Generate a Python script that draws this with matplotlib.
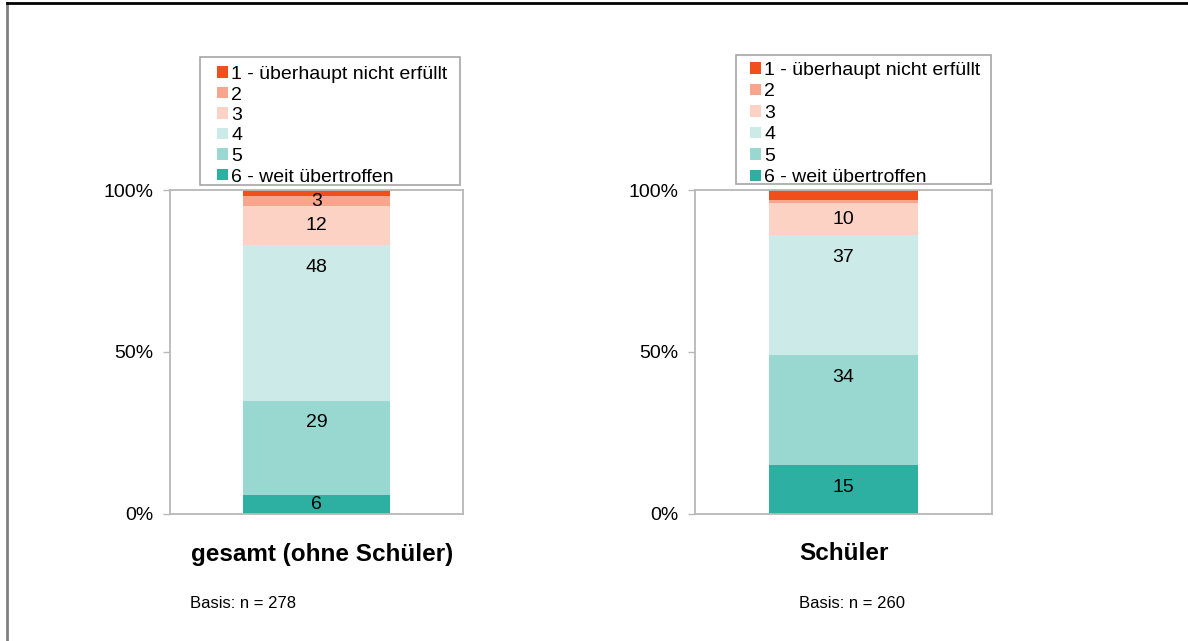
import matplotlib
matplotlib.use("Agg")
import matplotlib.pyplot as plt
from matplotlib.patches import Patch, Rectangle
from matplotlib.lines import Line2D

plt.rcParams['font.family'] = ['Liberation Sans', 'DejaVu Sans']

categories = ["1 - überhaupt nicht erfüllt", "2", "3", "4", "5", "6 - weit übertroffen"]
colors = ["#F04E1A", "#F7A68D", "#FCD2C5", "#CCEBE8", "#98D8D0", "#2DAFA1"]
groups = ["gesamt (ohne Schüler)", "Schüler"]
bases = ["Basis: n = 278", "Basis: n = 260"]
values_gesamt = [2, 3, 12, 48, 29, 6]
values_schueler = [3, 1, 10, 37, 34, 15]
show_labels_gesamt = [False, True, True, True, True, True]
show_labels_schueler = [False, False, True, True, True, True]
yticks = [0, 50, 100]
yticklabels = ["0%", "50%", "100%"]

W, H = 1188, 641
fig = plt.figure(figsize=(W / 100, H / 100), dpi=100)

def fx(px):
    return px / W

def fy(py):
    return 1 - py / H

axes_px = [(170, 463), (695, 992)]
legend_frame_px = [(200, 57, 460, 185), (736, 55, 991, 184)]
legend_anchor_px = [(217, 66), (750, 62)]
legend_spacing = [0.18, 0.23]
title_cx = [322, 844]
basis_x = [190, 799]
all_values = [values_gesamt, values_schueler]
all_show = [show_labels_gesamt, show_labels_schueler]
spine_col = "#B8B8B8"
label_off = 22 / 324 * 100  # label offset from segment top in data units

for i in range(2):
    x0, x1 = axes_px[i]
    ax = fig.add_axes([fx(x0), fy(514), fx(x1) - fx(x0), fy(190) - fy(514)])
    vals = all_values[i]
    bottom = 0
    for k in range(len(vals) - 1, -1, -1):
        v = vals[k]
        ax.bar(0, v, bottom=bottom, width=1.0, color=colors[k], edgecolor='none')
        if all_show[i][k]:
            top = bottom + v
            ypos = top - min(v / 2, label_off)
            ax.text(0, ypos, str(v), ha='center', va='center',
                    fontsize=14, color='black')
        bottom += v
    ax.set_xlim(-1, 1)
    ax.set_ylim(0, 100)
    ax.set_xticks([])
    ax.set_yticks(yticks)
    ax.set_yticklabels(yticklabels, fontsize=14)
    ax.tick_params(axis='y', length=5, width=1, color=spine_col, pad=7)
    for s in ax.spines.values():
        s.set_color(spine_col)
        s.set_linewidth(1.3)

    handles = [Patch(facecolor=colors[k], edgecolor='none') for k in range(len(categories))]
    lx, ly = legend_anchor_px[i]
    leg = fig.legend(handles, categories, loc='upper left',
                     bbox_to_anchor=(fx(lx), fy(ly)), fontsize=14,
                     frameon=False,
                     handlelength=0.55, handleheight=0.55, handletextpad=0.18,
                     labelspacing=legend_spacing[i], borderpad=0, borderaxespad=0)
    fl, ft, fr, fb = legend_frame_px[i]
    fig.add_artist(Rectangle((fx(fl), fy(fb)), fx(fr) - fx(fl), fy(ft) - fy(fb),
                             transform=fig.transFigure, fill=False,
                             edgecolor='#A6A6A6', linewidth=1.2))

    fig.text(fx(title_cx[i]), fy(554), groups[i], ha='center', va='center',
             fontsize=17.5, fontweight='bold')
    fig.text(fx(basis_x[i]), fy(603), bases[i], ha='left', va='center', fontsize=12)

# outer frame
fig.add_artist(Line2D([fx(7), fx(7)], [0, fy(3)], transform=fig.transFigure,
                      color='#808080', linewidth=2))
fig.add_artist(Line2D([fx(7), 1], [fy(3), fy(3)], transform=fig.transFigure,
                      color='black', linewidth=2))

fig.savefig("out.png", dpi=100)
